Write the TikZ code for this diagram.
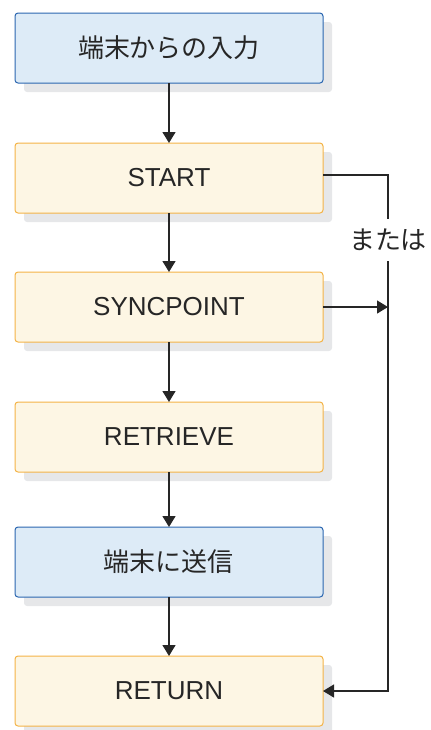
\documentclass[tikz,border=0pt]{standalone}
\usepackage{fontspec}
\setmainfont{Liberation Sans}
\newfontfamily\jpfont{Noto Sans CJK JP}
\usetikzlibrary{arrows.meta,positioning,shadows}
\definecolor{bluefill}{HTML}{DDEBF7}
\definecolor{blueline}{HTML}{2B66B0}
\definecolor{yelfill}{HTML}{FDF6E4}
\definecolor{yelline}{HTML}{F4B347}
\definecolor{shadowgray}{HTML}{E6E7E9}
\definecolor{inkgray}{HTML}{262626}

\begin{document}
\begin{tikzpicture}[
  font=\fontsize{13}{15}\selectfont,
  text=inkgray,
  bbox/.style={draw=blueline,fill=bluefill,rounded corners=1.5pt,line width=0.5pt,outer sep=0pt,minimum width=154pt,minimum height=35pt,align=center,
    drop shadow={shadow xshift=4.5pt,shadow yshift=-4.5pt,fill=shadowgray,opacity=1}},
  ybox/.style={bbox,draw=yelline,fill=yelfill},
  arr/.style={-{Triangle[length=5.5pt,width=6.5pt]},line width=0.65pt,draw=inkgray},
  lin/.style={line width=0.65pt,draw=inkgray}
]
\useasboundingbox (0,0) rectangle (215pt,-365pt);
% ---- main flow ----
\node[bbox] (input) at (84.5pt,-24pt) {\jpfont 端末からの入力};
\node[ybox,below=30pt of input]   (start) {START};
\node[ybox,below=29.5pt of start] (sync)  {SYNCPOINT};
\node[ybox,below=30pt of sync]    (retr)  {RETRIEVE};
\node[bbox,below=27.5pt of retr]  (send)  {\jpfont 端末に送信};
\node[ybox,below=29.5pt of send]  (ret)   {RETURN};
\draw[arr] (input) -- (start);
\draw[arr] (start) -- (sync);
\draw[arr] (sync) -- (retr);
\draw[arr] (retr) -- (send);
\draw[arr] (send) -- (ret);

% ---- side path ----
\node[inner sep=0pt,minimum height=21pt] (or) at (194pt,-120pt) {\jpfont または};
\coordinate (ortop) at ([yshift=1.5pt]start.east -| or);
\draw[lin] ([yshift=1.5pt]start.east) -- (ortop) -- (or.north);
\draw[lin,arr] (or.south) |- (ret.east);
\draw[arr] (sync.east) -- (sync.east -| or);
\end{tikzpicture}
\end{document}
